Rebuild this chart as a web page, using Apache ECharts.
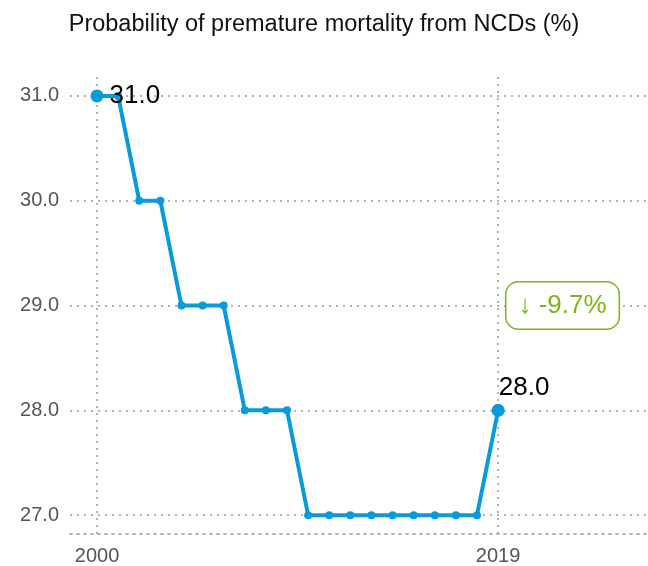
<!DOCTYPE html>
<html>
<head>
<meta charset="utf-8">
<script src="https://cdn.jsdelivr.net/npm/echarts@6/dist/echarts.min.js"></script>
<style>
  html, body { margin: 0; padding: 0; background: #fff; }
  #chart { width: 648px; height: 566px; }
</style>
</head>
<body>
<div id="chart"></div>
<script>
// years 2000..2019
const years = [2000, 2001, 2002, 2003, 2004, 2005, 2006, 2007, 2008, 2009,
  2010, 2011, 2012, 2013, 2014, 2015, 2016, 2017, 2018, 2019]
const values = [31, 31, 30, 30, 29, 29, 29, 28, 28, 28,
  27, 27, 27, 27, 27, 27, 27, 27, 27, 28]
const yTicks = [27, 28, 29, 30, 31]
const xTicks = [2000, 2019]

const blue = '#089bdb'
const green = '#7cb518'
const gridColor = '#b3b3b3'
const font = '"Liberation Sans", Arial, sans-serif'

const first = values[0]
const last = values[values.length - 1]
const change = ((last - first) / first * 100).toFixed(1)

const dotted = { color: gridColor, width: 2, type: [2, 5] }

let seriesData = years.map((y, i) => {
  let item = { value: [y, values[i]] }
  if (i === 0) {
    item.label = { show: true, position: 'right', distance: 6 }
  } else if (i === years.length - 1) {
    item.label = { show: true, position: 'top', offset: [26, 2] }
  }
  return item
})

let option = {
  animation: false,
  title: {
    text: 'Probability of premature mortality from NCDs (%)',
    left: 'center',
    top: 8,
    textStyle: { fontFamily: font, fontSize: 23.5, fontWeight: 'normal', color: '#111' }
  },
  grid: { left: 70, right: 0, top: 75, bottom: 31, containLabel: false },
  xAxis: {
    type: 'value',
    min: 1998.72,
    max: 2026.1,
    axisLine: { show: true, lineStyle: dotted },
    axisTick: { show: false },
    splitLine: { show: false },
    axisLabel: {
      customValues: xTicks,
      formatter: v => String(v),
      color: '#555',
      fontFamily: font,
      fontSize: 20,
      margin: 12
    }
  },
  yAxis: {
    type: 'value',
    min: 26.82,
    max: 31.2,
    axisLine: { show: false },
    axisTick: { show: false },
    splitLine: { show: false },
    axisLabel: {
      customValues: yTicks,
      formatter: v => v.toFixed(1),
      color: '#555',
      fontFamily: font,
      fontSize: 20,
      margin: 11
    }
  },
  series: [
    {
      // gridlines only
      type: 'line',
      data: [],
      z: 1,
      silent: true,
      markLine: {
        silent: true,
        z: 1,
        symbol: 'none',
        label: { show: false },
        lineStyle: dotted,
        emphasis: { disabled: true },
        data: yTicks.map(v => ({ yAxis: v })).concat(xTicks.map(v => ({ xAxis: v })))
      }
    },
    {
      type: 'line',
      z: 3,
      data: seriesData,
      symbol: 'circle',
      symbolSize: (v, p) => (p.dataIndex === 0 || p.dataIndex === years.length - 1) ? 13 : 8,
      lineStyle: { color: blue, width: 4 },
      itemStyle: { color: blue },
      label: {
        show: false,
        formatter: p => p.value[1].toFixed(1),
        color: '#000',
        fontFamily: font,
        fontSize: 26
      },
      markPoint: {
        symbol: 'rect',
        symbolSize: 1,
        itemStyle: { color: 'rgba(0,0,0,0)' },
        label: {
          show: true,
          position: 'inside',
          formatter: '↓ ' + change + '%',
          color: green,
          fontFamily: font,
          fontSize: 26,
          borderColor: green,
          borderWidth: 1.5,
          borderRadius: 12,
          padding: [10, 12, 10, 12],
          backgroundColor: '#fff'
        },
        data: [{ coord: [2022.05, 29] }]
      }
    }
  ]
}

let myChart = echarts.init(document.getElementById('chart'))
myChart.setOption(option)
</script>
</body>
</html>
